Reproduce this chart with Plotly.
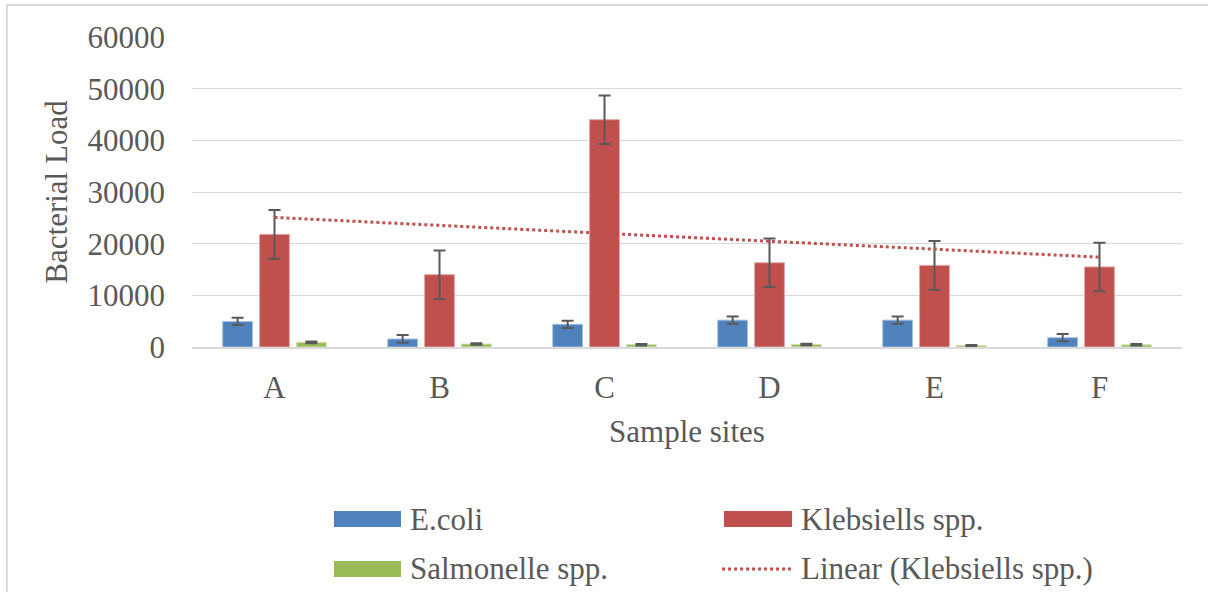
import numpy as np
import plotly.graph_objects as go

sites = ["A", "B", "C", "D", "E", "F"]
ecoli = [4950, 1550, 4400, 5200, 5200, 1800]
ecoli_err = [700, 750, 700, 700, 700, 700]
klebs = [21800, 14000, 44000, 16300, 15800, 15500]
klebs_err = [4700, 4700, 4700, 4700, 4700, 4700]
salmo = [900, 580, 450, 500, 250, 420]
salmo_err = [150, 150, 150, 150, 150, 150]

C_E = "#4F81BD"
C_K = "#C0504D"
C_S = "#9BBB59"
GRID = "#D9D9D9"
TXT = "#595959"
FONT = "Liberation Serif"
FS = 31

# linear trendline (least squares) over Klebsiella values
xi = np.arange(1, len(sites) + 1)
slope, intercept = np.polyfit(xi, klebs, 1)
trend = slope * xi + intercept

fig = go.Figure()

def bar(name, vals, errs, color, edge):
    fig.add_trace(go.Bar(
        x=sites, y=vals, name=name, showlegend=False,
        marker=dict(color=color, line=dict(color=edge, width=1)),
        error_y=dict(type="data", array=errs, visible=True, color="#595959",
                     thickness=2, width=6),
    ))

bar("E.coli", ecoli, ecoli_err, C_E, "#A7C0DE")
bar("Klebsiells spp.", klebs, klebs_err, C_K, "#E0A8A6")
bar("Salmonelle spp.", salmo, salmo_err, C_S, "#CDDDAC")

fig.add_trace(go.Scatter(
    x=sites, y=trend, mode="lines", name="Linear (Klebsiells spp.)",
    line=dict(color=C_K, width=3, dash="dot"), showlegend=False,
))

# legend drawn as in the original: wide swatches in a 2x2 arrangement (paper coords)
legend_items = [
    ("E.coli", C_E, "box", 0.1434, 0.2111, 0.2182, -0.555),
    ("Klebsiells spp.", C_K, "box", 0.5374, 0.6061, 0.6131, -0.555),
    ("Salmonelle spp.", C_S, "box", 0.1434, 0.2111, 0.2182, -0.716),
    ("Linear (Klebsiells spp.)", C_K, "dot", 0.5354, 0.6061, 0.6131, -0.716),
]
shapes = [dict(type="rect", xref="paper", yref="paper",
               x0=-0.187, x1=1.05, y0=-1.2, y1=1.103,
               line=dict(color=GRID, width=2), fillcolor="rgba(0,0,0,0)", layer="below")]
annotations = []
half_h = 8 / 310
for name, color, kind, sx0, sx1, tx, yc in legend_items:
    if kind == "box":
        shapes.append(dict(type="rect", xref="paper", yref="paper",
                           x0=sx0, x1=sx1, y0=yc - half_h, y1=yc + half_h,
                           line=dict(width=0), fillcolor=color))
    else:
        shapes.append(dict(type="line", xref="paper", yref="paper",
                           x0=sx0, x1=sx1, y0=yc, y1=yc,
                           line=dict(color=color, width=3, dash="dot")))
    annotations.append(dict(xref="paper", yref="paper", x=tx, y=yc, text=name,
                            showarrow=False, xanchor="left", yanchor="middle",
                            font=dict(family=FONT, size=FS, color=TXT)))

fig.update_layout(
    width=1208, height=592,
    margin=dict(l=192, r=26, t=37, b=245),
    paper_bgcolor="white", plot_bgcolor="white",
    font=dict(family=FONT, size=FS, color=TXT),
    barmode="group", bargap=0.33, bargroupgap=0.19,
    showlegend=False,
    xaxis=dict(showgrid=False, showline=True, linecolor=GRID, linewidth=2,
               ticks="", ticklabelstandoff=12, tickfont=dict(size=FS, color=TXT),
               title=dict(text="Sample sites", font=dict(size=FS, color=TXT), standoff=16)),
    yaxis=dict(range=[0, 60000], dtick=10000, tickformat="d", showgrid=True,
               gridcolor=GRID, gridwidth=1, zeroline=False, showline=False, ticks="",
               ticklabelstandoff=26, tickfont=dict(size=FS, color=TXT),
               title=dict(text="Bacterial Load", font=dict(size=FS, color=TXT), standoff=10)),
    shapes=shapes,
    annotations=annotations,
)

fig.write_html("out.html", config={"displayModeBar": False},
               post_script="document.body.style.margin='0';")
